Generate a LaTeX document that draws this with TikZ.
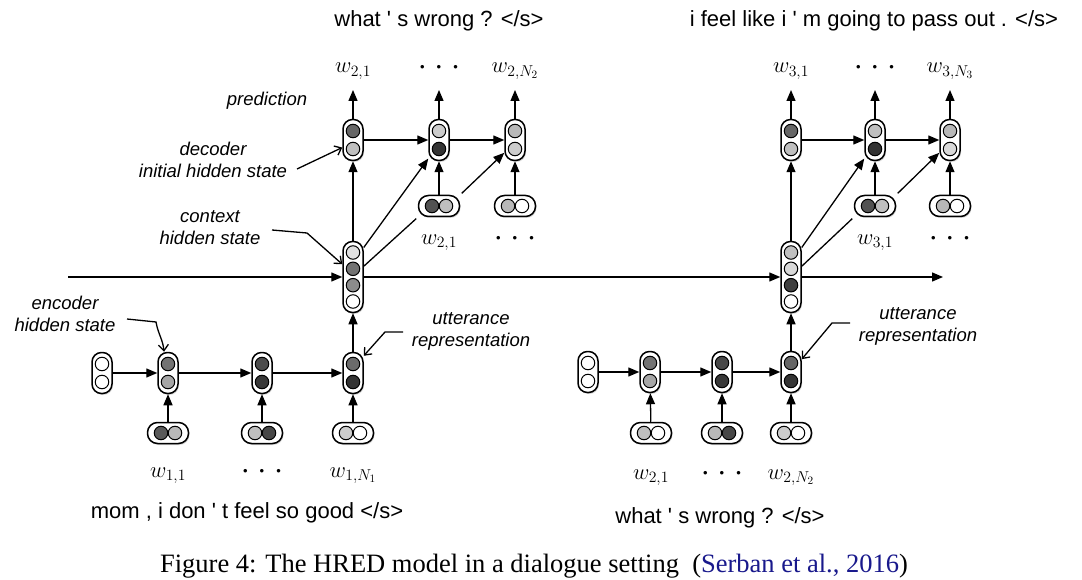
\RequirePackage{fix-cm}
\documentclass[tikz,border=0pt]{standalone}
\usepackage{fontspec}
\setmainfont{Liberation Serif}
\setsansfont{Liberation Sans}
\usetikzlibrary{arrows.meta,shadows}
\definecolor{citeblue}{rgb}{0.1,0.1,0.55}
\newcommand\vtwo[5]{%
  \node[pillv] (#1) at (#2,#3) {};
  \node[cell, fill=#4] (#1a) at (#2,#3-9) {};
  \node[cell, fill=#5] (#1b) at (#2,#3+9) {};}
\newcommand\htwo[5]{%
  \node[pillh] (#1) at (#2,#3) {};
  \node[cell, fill=#4] (#1a) at (#2-7,#3) {};
  \node[cell, fill=#5] (#1b) at (#2+7,#3) {};}
\newcommand\vfour[7]{%
  \node[pillc] (#1) at (#2,#3) {};
  \node[cell, fill=#4] (#1a) at (#2,#3-24.5) {};
  \node[cell, fill=#5] (#1b) at (#2,#3-8.2) {};
  \node[cell, fill=#6] (#1c) at (#2,#3+8.2) {};
  \node[cell, fill=#7] (#1d) at (#2,#3+24.5) {};}
\newcommand\wdots{\raisebox{1.8pt}{\sffamily\fontsize{13}{13}\selectfont\textbullet\hspace{12pt}\textbullet\hspace{12pt}\textbullet}}
\newcommand\q{\textquotesingle}
\begin{document}
\begin{tikzpicture}[x=1pt,y=-1pt,
  pillv/.style={draw, line width=1.5pt, fill=white, rounded corners=9.5pt,
    minimum width=20pt, minimum height=41pt, inner sep=0pt,
    drop shadow={opacity=0.3, shadow xshift=1pt, shadow yshift=-1.5pt}},
  pillc/.style={pillv, minimum height=71pt},
  pillh/.style={pillv, minimum width=41pt, minimum height=21pt, rounded corners=10pt},
  cell/.style={circle, draw, line width=1pt, minimum size=13.5pt, inner sep=0pt},
  arr/.style={-{Triangle[length=11pt,width=9pt]}, line width=1.3pt},
  plainline/.style={line width=1.3pt},
  ann/.style={-{Straight Barb[length=6pt,width=10pt]}, line width=1.3pt},
  lab/.style={font=\sffamily\itshape\fontsize{18.5}{22}\selectfont, align=center, inner sep=0pt},
  sent/.style={font=\sffamily\fontsize{22}{26}\selectfont, inner sep=0pt, anchor=base},
  wl/.style={font=\fontsize{22.5}{26}\selectfont, inner sep=0pt, anchor=base},
  captext/.style={font=\fontsize{26.5}{30}\selectfont, inner sep=0pt, anchor=base}]
\fill[white] (0,0) rectangle (1082,580);
\useasboundingbox (0,0) rectangle (1082,580);

% ---------- left block nodes ----------
\vtwo{e0}{102}{373}{white}{white}
\vtwo{e1}{168}{373}{black!55}{black!35}
\vtwo{e2}{262}{373}{black!70}{black!78}
\vtwo{e3}{353}{373}{black!58}{black!80}
\htwo{i1}{168}{433}{black!65}{black!28}
\htwo{i2}{262}{433}{black!25}{black!72}
\htwo{i3}{353}{433}{black!20}{white}
\vfour{c1}{353}{277}{black!12}{black!55}{black!45}{white}
\vtwo{d1}{353}{140}{black!60}{black!25}
\vtwo{d2}{439}{140}{black!20}{black!80}
\vtwo{d3}{515}{140}{black!28}{black!20}
\htwo{p1}{439}{206}{black!68}{black!25}
\htwo{p2}{515}{206}{black!28}{white}

% ---------- right block nodes ----------
\vtwo{f0}{588}{372}{white}{white}
\vtwo{f1}{650}{372}{black!55}{black!35}
\vtwo{f2}{722}{372}{black!72}{black!78}
\vtwo{f3}{791}{372}{black!60}{black!80}
\htwo{j1}{651}{433}{black!25}{white}
\htwo{j2}{722}{433}{black!28}{black!72}
\htwo{j3}{791}{433}{black!20}{white}
\vfour{c2}{791}{277}{black!25}{black!15}{black!75}{white}
\vtwo{r1}{791}{140}{black!60}{black!25}
\vtwo{r2}{875}{140}{black!25}{black!80}
\vtwo{r3}{950}{140}{black!28}{black!15}
\htwo{q1}{875}{206}{black!68}{black!25}
\htwo{q2}{950}{206}{black!28}{white}

% ---------- free ends ----------
\coordinate (inL) at (68,277);
\coordinate (outR) at (943,277);
\coordinate (od1) at (353,90);
\coordinate (od2) at (439,90);
\coordinate (od3) at (515,90);
\coordinate (or1) at (791,90);
\coordinate (or2) at (875,90);
\coordinate (or3) at (950,90);

% ---------- left connectors ----------
\draw[arr] (e0) -- (e1);
\draw[arr] (e1) -- (e2);
\draw[arr] (e2) -- (e3);
\draw[arr] (i1) -- (e1);
\draw[arr] (i2) -- (e2);
\draw[arr] (i3) -- (e3);
\draw[arr] (e3) -- (c1);
\draw[arr] (inL) -- (c1);
\draw[arr] (c1) -- (c2);
\draw[arr] (c1) -- (d1);
\draw[arr] (c1.70) -- (d2.240);
\draw[plainline, shorten >=2pt] (c1.45) -- (p1.south west);
\draw[arr, shorten <=2pt] (p1.north east) -- (d3.230);
\draw[arr] (d1) -- (d2);
\draw[arr] (d2) -- (d3);
\draw[arr] (p1) -- (d2);
\draw[arr] (p2) -- (d3);
\draw[arr] (d1) -- (od1);
\draw[arr] (d2) -- (od2);
\draw[arr] (d3) -- (od3);

% ---------- right connectors ----------
\draw[arr] (f0) -- (f1);
\draw[arr] (f1) -- (f2);
\draw[arr] (f2) -- (f3);
\draw[arr] (j1) -- (f1);
\draw[arr] (j2) -- (f2);
\draw[arr] (j3) -- (f3);
\draw[arr] (f3) -- (c2);
\draw[arr] (c2) -- (outR);
\draw[arr] (c2) -- (r1);
\draw[arr] (c2.70) -- (r2.240);
\draw[plainline, shorten >=2pt] (c2.45) -- (q1.south west);
\draw[arr, shorten <=2pt] (q1.north east) -- (r3.230);
\draw[arr] (r1) -- (r2);
\draw[arr] (r2) -- (r3);
\draw[arr] (q1) -- (r2);
\draw[arr] (q2) -- (r3);
\draw[arr] (r1) -- (or1);
\draw[arr] (r2) -- (or2);
\draw[arr] (r3) -- (or3);

% ---------- word labels ----------
\node[wl] (lw21) at (353,73) {$w_{2,1}$};
\node[wl] (ldt1) at (439,73) {\wdots};
\node[wl] (lw2n) at (515,73) {$w_{2,N_2}$};
\node[wl] (lw31) at (791,73) {$w_{3,1}$};
\node[wl] (ldt2) at (875,73) {\wdots};
\node[wl] (lw3n) at (950,73) {$w_{3,N_3}$};
\node[wl] (lp21) at (439,244) {$w_{2,1}$};
\node[wl] (lpdt) at (515,244) {\wdots};
\node[wl] (lq31) at (875,244) {$w_{3,1}$};
\node[wl] (lqdt) at (950,244) {\wdots};
\node[wl] (li11) at (168,477) {$w_{1,1}$};
\node[wl] (lidt) at (262,477) {\wdots};
\node[wl] (li1n) at (353,477) {$w_{1,N_1}$};
\node[wl] (lj21) at (651,479) {$w_{2,1}$};
\node[wl] (ljdt) at (722,479) {\wdots};
\node[wl] (lj2n) at (791,479) {$w_{2,N_2}$};

% ---------- sentences ----------
\node[sent] (s1) at (439,27) {what \q\ s wrong ? </s>};
\node[sent] (s2) at (874,27) {i feel like i \q\ m going to pass out . </s>};
\node[sent] (s3) at (247,518) {mom , i don \q\ t feel so good </s>};
\node[sent] (s4) at (720,523) {what \q\ s wrong ? </s>};

% ---------- annotations ----------
\node[lab] (tpred) at (267,101) {prediction};
\node[lab] (tdec) at (213,160) {decoder\\initial hidden state};
\node[lab] (tctx) at (210,228) {context\\hidden state};
\node[lab] (tenc) at (65,314) {encoder\\hidden state};
\node[lab] (tutl) at (471,331) {utterance\\representation};
\node[lab] (tutr) at (918,326) {utterance\\representation};

\coordinate (adec) at (297,169);
\coordinate (actx) at (272,230);
\coordinate (aenc) at (127,319);
\coordinate (autl) at (403,332);
\coordinate (autr) at (850,323);
\draw[ann] (adec) -- (d1.215);
\draw[ann] (actx) -- (307,233) -- (c1.130);
\draw[ann] (aenc) -- (156,322) to[out=-80,in=95] ([xshift=-4pt]e1.north);
\draw[ann] (autl) -- (385,332) -- (e3.58);
\draw[ann] (autr) -- (832,323) -- (f3.50);

% ---------- caption ----------
\node[captext] (capt) at (534,572) {Figure 4: The HRED model in a dialogue setting\ \ (\textcolor{citeblue}{Serban et al., 2016})};
\end{tikzpicture}
\end{document}
